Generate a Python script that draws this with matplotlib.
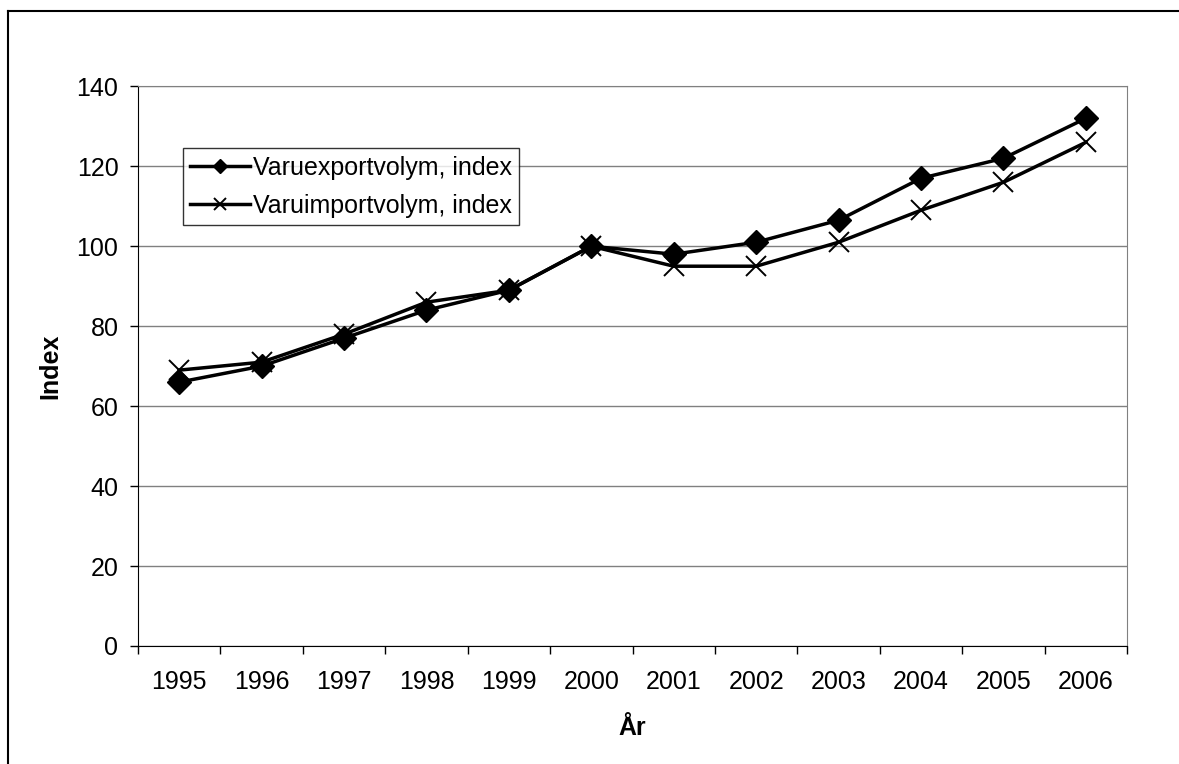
import numpy as np
import matplotlib.pyplot as plt
from matplotlib.lines import Line2D

plt.rcParams['font.family'] = ['Liberation Sans', 'DejaVu Sans']

years = ['1995', '1996', '1997', '1998', '1999', '2000',
         '2001', '2002', '2003', '2004', '2005', '2006']
export_vol = [66, 70, 77, 84, 89, 100, 98, 101, 106.5, 117, 122, 132]
import_vol = [69, 71, 78, 86, 89, 100, 95, 95, 101, 109, 116, 126]

fs = 18

fig = plt.figure(figsize=(11.79, 7.64), dpi=100)
ax = fig.add_axes([0.117, 0.1545, 0.839, 0.7325])

# outer chart frame (only left/top edges fall inside the image)
fx, fy = 8 / 1179, 1 - 11 / 764
fig.add_artist(Line2D([fx, fx], [0, fy], transform=fig.transFigure,
                      color='black', linewidth=1.5))
fig.add_artist(Line2D([fx, 1], [fy, fy], transform=fig.transFigure,
                      color='black', linewidth=1.5))

x = np.arange(len(years))
ax.plot(x, export_vol, color='black', linewidth=2.5, marker='D',
        markersize=12, label='Varuexportvolym, index')
ax.plot(x, import_vol, color='black', linewidth=2.5, marker='x',
        markersize=14, markeredgewidth=1.4, label='Varuimportvolym, index')

ax.set_xlim(-0.5, len(years) - 0.5)
ax.set_ylim(0, 140)
ax.set_yticks(range(0, 141, 20))
ax.yaxis.grid(True, color='#808080', linewidth=1)
ax.set_axisbelow(True)

ax.set_xticks(x)
ax.set_xticklabels(years)
ax.set_xticks(np.arange(-0.5, len(years), 1), minor=True)
ax.tick_params(axis='x', which='major', length=0, pad=17, labelsize=fs)
ax.tick_params(axis='x', which='minor', length=6, width=1, color='black')
ax.tick_params(axis='y', length=6, width=1, labelsize=fs, pad=8)

for side in ['top', 'right']:
    ax.spines[side].set_color('#808080')
for side in ['left', 'bottom']:
    ax.spines[side].set_color('black')

ax.set_xlabel('År', fontsize=fs, fontweight='bold', labelpad=16)
ax.set_ylabel('Index', fontsize=fs, fontweight='bold', labelpad=10)

leg = ax.legend(loc='upper left', bbox_to_anchor=(0.0455, 0.889),
                borderaxespad=0, fontsize=fs, frameon=True, fancybox=False,
                handlelength=2.4, handletextpad=0.1, borderpad=0.3,
                labelspacing=0.55, markerscale=0.6)
leg.get_frame().set_edgecolor('black')
leg.get_frame().set_linewidth(1)

plt.savefig('out.png', dpi=100)
